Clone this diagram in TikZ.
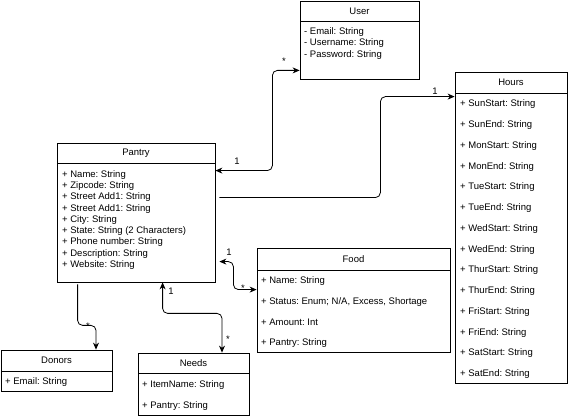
\documentclass[tikz,border=0pt]{standalone}
\usepackage{fontspec}
\setmainfont{Liberation Sans}
\usetikzlibrary{arrows.meta,calc}
\frenchspacing

\begin{document}
\begin{tikzpicture}[x=1pt,y=-1pt,font=\fontsize{9.5}{11}\selectfont]
        \tikzstyle{classhead}=[rectangle,draw=black,line width=0.8pt,inner sep=0pt]
        \tikzstyle{classbody}=[rectangle,draw=black,line width=0.8pt,inner sep=0pt]
        \tikzstyle{attr}=[anchor=west,inner sep=0pt,yshift=-1pt]
        \tikzstyle{mult}=[inner sep=0pt]
        \tikzstyle{assoc}=[draw,line width=0.8pt,rounded corners=5pt]
        \tikzstyle{tip}=[-{Stealth[length=7pt,width=6pt]}]
        \tikzstyle{tips}=[{Stealth[length=7pt,width=6pt]}-{Stealth[length=7pt,width=6pt]}]
       \useasboundingbox (0,0) rectangle (568,419);
       \begin{scope}
         % classes
         \node [classhead,minimum width=119pt,minimum height=20pt] (user) at (359.5,11) {User};
         \node [classbody,minimum width=119pt,minimum height=58pt] (userbody) at (359.5,50) {};
         \foreach \t [count=\i from 0] in {- Email: String,- Username: String,- Password: String}
           \node [attr] (userattr\i) at (304,31+11.5*\i) {\t};

         \node [classhead,minimum width=112pt,minimum height=21pt] (hours) at (511,82.5) {Hours};
         \node [classbody,minimum width=112pt,minimum height=290pt] (hoursbody) at (511,238) {};
         \foreach \t [count=\i from 0] in {SunStart,SunEnd,MonStart,MonEnd,TueStart,TueEnd,WedStart,WedEnd,ThurStart,ThurEnd,FriStart,FriEnd,SatStart,SatEnd}
           \node [attr] (hoursattr\i) at (460,103.5+20.75*\i) {+ \t: String};

         \node [classhead,minimum width=158pt,minimum height=20pt] (pantry) at (136,153) {Pantry};
         \node [classbody,minimum width=158pt,minimum height=119pt] (pantrybody) at (136,222.5) {};
         \foreach \t [count=\i from 0] in {Name: String,Zipcode: String,Street Add1: String,Street Add1: String,City: String,State: String (2 Characters),Phone number: String,Description: String,Website: String}
           \node [attr] (pantryattr\i) at (62,174+11.25*\i) {+ \t};

         \node [classhead,minimum width=193pt,minimum height=22pt] (food) at (353.5,259) {Food};
         \node [classbody,minimum width=193pt,minimum height=82pt] (foodbody) at (353.5,311) {};
         \foreach \t [count=\i from 0] in {Name: String,{Status: Enum; N/A, Excess, Shortage},Amount: Int,Pantry: String}
           \node [attr] (foodattr\i) at (261,280.5+20.6*\i) {+ \t};

         \node [classhead,minimum width=111pt,minimum height=21pt] (donors) at (56.5,360.5) {Donors};
         \node [classbody,minimum width=111pt,minimum height=20pt] (donorsbody) at (56.5,381) {};
         \node [attr] (donorsattr0) at (5,381) {+ Email: String};

         \node [classhead,minimum width=111pt,minimum height=20pt] (needs) at (193.5,363) {Needs};
         \node [classbody,minimum width=111pt,minimum height=42pt] (needsbody) at (193.5,394) {};
         \node [attr] (needsattr0) at (142,384) {+ ItemName: String};
         \node [attr] (needsattr1) at (142,405) {+ Pantry: String};

         % associations
         \path[assoc,tips] ($(pantrybody.north east)+(0,8)$) -- ++(57,0) |- ($(userbody.south west)+(0,-9)$);
         \path[assoc,tip] ($(pantrybody.north east)+(4,35)$) -- ++(161,0) |- ($(hoursbody.north west)+(0,4)$);
         \path[assoc,tips] ($(pantrybody.north east)+(4,99)$) -- ++(14,0) |- ($(foodbody.north west)+(0,20)$);
         \path[assoc,tips] ($(pantrybody.south west)+(106,0)$) -- ++(0,31) -| (needs.north -| 222,0);
         \path[assoc,tip] ($(pantrybody.south west)+(21,2)$) -- ++(0,41) -| (donors.north -| 96,0);

         \node [mult] (m1) at (237,161) {1};
         \node [mult] (m2) at (284,61) {*};
         \node [mult] (m3) at (435,91) {1};
         \node [mult] (m4) at (229,252) {1};
         \node [mult] (m5) at (243,288) {*};
         \node [mult] (m6) at (171,291) {1};
         \node [mult] (m7) at (228,339) {*};
         \node [mult] (m8) at (88,326) {*};
        \end{scope}
      \end{tikzpicture}
\end{document}
